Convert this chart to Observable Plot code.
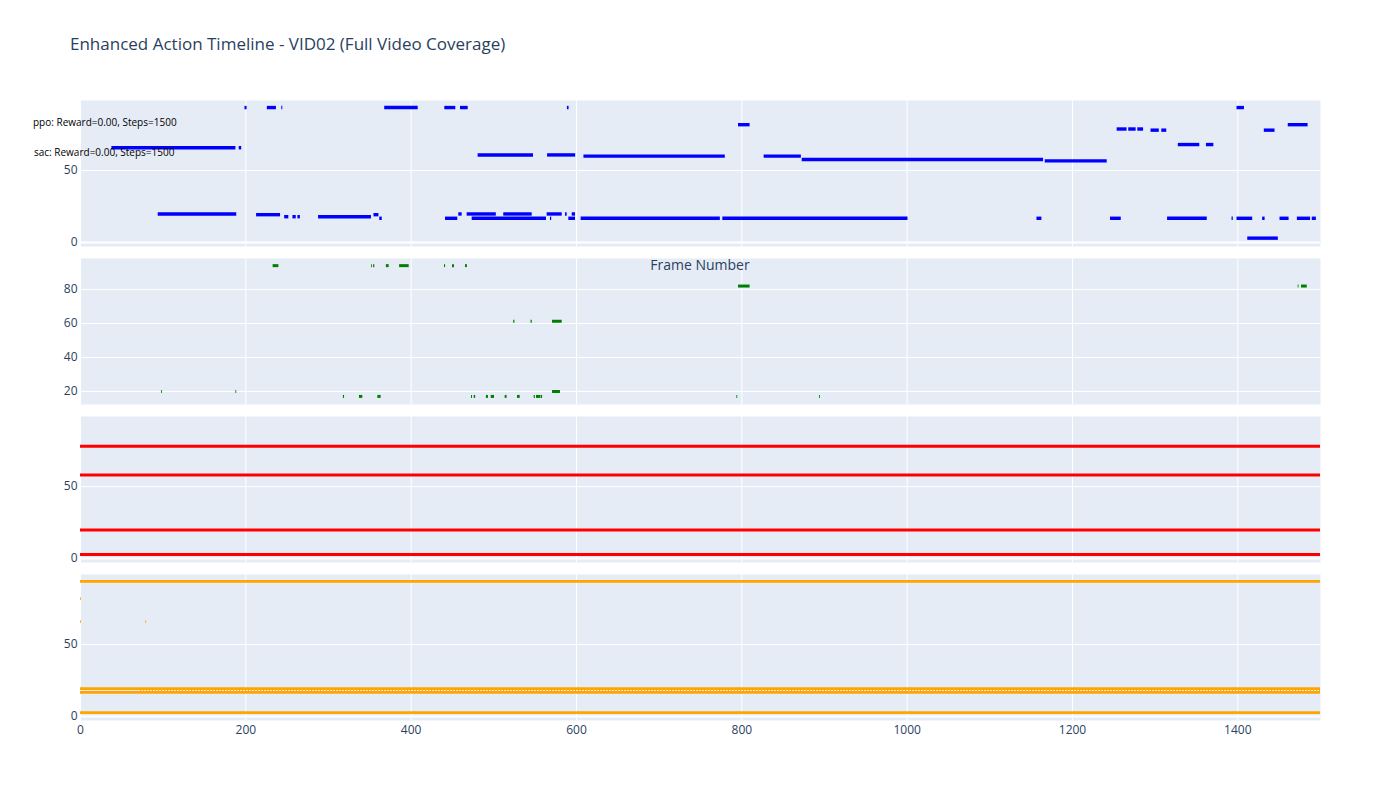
<!DOCTYPE html>
<html>
<head>
<meta charset="utf-8">
<script src="https://cdn.jsdelivr.net/npm/d3@7"></script>
<script src="https://cdn.jsdelivr.net/npm/@observablehq/plot@0.6"></script>
<style>
  html, body { margin: 0; padding: 0; background: #fff; }
  #root { position: relative; width: 1400px; height: 800px; font-family: "Open Sans", sans-serif; color: #2a3f5f; }
  .abs { position: absolute; white-space: nowrap; }
  .panel { position: absolute; left: 0; }
</style>
</head>
<body>
<div id="root">
  <div class="abs" style="left:70px; top:35px; font-size:17px; line-height:17px;">Enhanced Action Timeline - VID02 (Full Video Coverage)</div>
</div>
<script>
// ---------- data ----------
const xTicks = [0, 200, 400, 600, 800, 1000, 1200, 1400];
const panel1Ticks = [0, 50];
const panel2Ticks = [20, 40, 60, 80];
const panel3Ticks = [0, 50];
const panel4Ticks = [0, 50];

// panel 1 (blue) action segments: frame start, frame end, action value
const blueStart = [199, 226, 243.5, 368, 440.7, 459.7, 589, 1399,
  38, 192, 481, 565, 609, 827, 873, 1167, 796, 1461,
  1254, 1268, 1279, 1295, 1308, 1432, 1328, 1362,
  94, 457.6, 467.7, 512, 564.5, 586.7, 594.8,
  213, 355, 247, 257, 263, 288,
  362, 441.5, 473.8, 568.5, 590.7, 605.6, 777, 1157, 1246, 1315, 1393, 1399, 1430, 1451, 1472, 1490,
  1412];
const blueEnd = [201.5, 237, 244.7, 408.5, 454, 469, 591, 1408,
  188, 195, 548, 599, 780, 872, 1165, 1242, 810, 1485,
  1266, 1277, 1286, 1305, 1314, 1445, 1354, 1371,
  189, 461.7, 503, 546.4, 582.7, 588.7, 598.8,
  242, 361, 252, 261, 266, 352,
  365, 456.4, 563.7, 570, 598.8, 774, 1001, 1163, 1259, 1363, 1394.5, 1418, 1433, 1462, 1488, 1495,
  1449];
const blueAction = [93.7, 93.7, 93.7, 93.7, 93.7, 93.7, 93.7, 93.7,
  65.8, 65.8, 60.8, 60.8, 60, 60, 57.6, 56.7, 81.8, 81.8,
  78.8, 78.8, 78.8, 78, 78, 78, 68, 68,
  19.8, 19.8, 19.8, 19.8, 19.8, 19.8, 19.8,
  19.3, 19.3, 17.9, 17.9, 17.9, 17.9,
  16.8, 16.8, 16.8, 16.8, 16.8, 16.8, 16.8, 16.8, 16.8, 16.8, 16.8, 16.8, 16.8, 16.8, 16.8, 16.8,
  3];

// panel 2 (green)
const greenStart = [233, 352, 354.5, 370, 386, 440.3, 450, 465.7,
  796, 1473, 1477,
  524, 545, 571,
  98, 188, 571,
  318, 337.5, 359.7, 473, 476.2, 491, 496.8, 513.7, 528.6, 548.8, 551.6, 557.3, 794, 894];
const greenEnd = [240, 353, 356, 373.4, 397.6, 441.6, 452.4, 468,
  810, 1474, 1484,
  525.5, 546.5, 582.7,
  99, 189, 580.6,
  319.4, 341.5, 363.7, 474.2, 478, 493.5, 500.8, 516, 531.9, 550.2, 556.8, 559, 795, 895];
const greenAction = [94, 94, 94, 94, 94, 94, 94, 94,
  82, 82, 82,
  61.3, 61.3, 61.3,
  20, 20, 20,
  17.1, 17.1, 17.1, 17.1, 17.1, 17.1, 17.1, 17.1, 17.1, 17.1, 17.1, 17.1, 17.1, 17.1];

// panel 3 (red)
const redStart = [0, 0, 0, 0];
const redEnd = [1500, 1500, 1500, 1500];
const redAction = [78, 58.1, 19.9, 2.8];

// panel 4 (orange)
const orangeStart = [0, 0, 0, 0, 0, 0, 79];
const orangeEnd = [1500, 1500, 1500, 1500, 1, 1, 80];
const orangeAction = [93.9, 19.4, 16.8, 2.7, 82, 66, 66];
const orangeDashStart = [72.6];
const orangeDashEnd = [1500];
const orangeDashAction = [18.1];

// ---------- drawing ----------
const zip = (s, e, y) => s.map((d, i) => ({s: d, e: e[i], y: y[i]}));
const bg = "#E5ECF6";
const root = document.getElementById("root");

function panel({top, yDomain, yTicks, zero, marks, last}) {
  const mb = last ? 30 : 8;
  const chart = Plot.plot({
    width: 1400,
    height: 146 + mb,
    marginLeft: 80,
    marginRight: 80,
    marginTop: 0,
    marginBottom: mb,
    style: {fontFamily: "'Open Sans', sans-serif", fontSize: "12px", color: "#2a3f5f", background: "transparent"},
    x: {domain: [0, 1500], axis: null},
    y: {domain: yDomain, axis: null},
    marks: [
      Plot.frame({fill: bg, stroke: "none"}),
      Plot.gridX(xTicks, {stroke: "white", strokeOpacity: 1, strokeWidth: 1}),
      Plot.gridY(yTicks, {stroke: "white", strokeOpacity: 1, strokeWidth: 1}),
      zero ? Plot.ruleY([0], {stroke: "white", strokeWidth: 2}) : null,
      ...marks,
      Plot.axisY(yTicks, {tickSize: 0, tickPadding: 3, label: null, fontSize: 12, tickFormat: d => String(d)}),
      last ? Plot.axisX(xTicks, {tickSize: 0, tickPadding: 5, label: null, fontSize: 12, tickFormat: d => String(d)}) : null
    ]
  });
  const wrap = document.createElement("div");
  wrap.className = "panel";
  wrap.style.top = top + "px";
  wrap.appendChild(chart);
  root.appendChild(wrap);
}

panel({
  top: 100, yDomain: [-2.8, 98.6], yTicks: panel1Ticks, zero: true,
  marks: [Plot.ruleY(zip(blueStart, blueEnd, blueAction), {x1: "s", x2: "e", y: "y", stroke: "#0000FF", strokeWidth: 3.4})]
});
panel({
  top: 258, yDomain: [12.35, 98.2], yTicks: panel2Ticks, zero: false,
  marks: [Plot.ruleY(zip(greenStart, greenEnd, greenAction), {x1: "s", x2: "e", y: "y", stroke: "#008000", strokeWidth: 3})]
});
panel({
  top: 416, yDomain: [-2.7, 98.7], yTicks: panel3Ticks, zero: true,
  marks: [Plot.ruleY(zip(redStart, redEnd, redAction), {x1: "s", x2: "e", y: "y", stroke: "#FF0000", strokeWidth: 3})]
});
panel({
  top: 574, yDomain: [-2.7, 98.7], yTicks: panel4Ticks, zero: true, last: true,
  marks: [
    Plot.ruleY(zip(orangeStart, orangeEnd, orangeAction), {x1: "s", x2: "e", y: "y", stroke: "#FFA500", strokeWidth: 2.8}),
    Plot.ruleY(zip(orangeDashStart, orangeDashEnd, orangeDashAction), {x1: "s", x2: "e", y: "y", stroke: "#FFA500", strokeWidth: 1, strokeDasharray: "1,2"})
  ]
});

// annotations
function label(text, left, top, size, extra) {
  const d = document.createElement("div");
  d.className = "abs";
  d.textContent = text;
  d.style.left = left + "px";
  d.style.top = top + "px";
  d.style.fontSize = size + "px";
  d.style.lineHeight = size + "px";
  if (extra) Object.assign(d.style, extra);
  root.appendChild(d);
}
label("ppo: Reward=0.00, Steps=1500", 33, 117, 10, {color: "#000"});
label("sac: Reward=0.00, Steps=1500", 34, 147, 10, {color: "#000"});
label("Frame Number", 650, 258, 14, {width: "100px", textAlign: "center"});
</script>
</body>
</html>
